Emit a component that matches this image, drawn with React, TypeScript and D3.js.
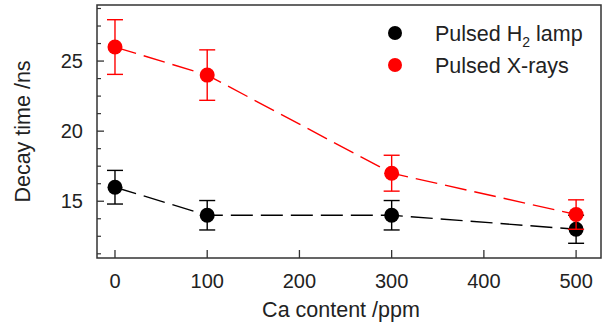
import * as d3 from "d3";

const caContent = [0, 100, 300, 500];
const lampDecay = [16, 14, 14, 13];
const lampErr = [1.2, 1.05, 1.05, 1.0];
const xrayDecay = [26, 24, 17, 14.05];
const xrayErr = [1.95, 1.8, 1.28, 1.05];
const xTicks = [0, 100, 200, 300, 400, 500];
const yTicks = [15, 20, 25];
const yMinorTicks = [11.25, 12.5, 13.75, 16.25, 17.5, 18.75, 21.25, 22.5, 23.75, 26.25, 27.5, 28.75];

const W = 610;
const H = 325;
const margin = { top: 5, right: 9, bottom: 67, left: 97 };
const FONT = "Liberation Sans, Arial, sans-serif";

export default function App() {
  const x = d3.scaleLinear().domain([-19.5, 527]).range([margin.left, W - margin.right]);
  const y = d3.scaleLinear().domain([10.95, 29]).range([H - margin.bottom, margin.top]);

  const line = d3
    .line<number>()
    .x((_, i) => x(caContent[i]))
    .y((d) => y(d));

  const series = [
    { name: "lamp", vals: lampDecay, err: lampErr, color: "#000000" },
    { name: "xray", vals: xrayDecay, err: xrayErr, color: "#ff0000" },
  ];

  const x0 = margin.left;
  const x1 = W - margin.right;
  const y0 = H - margin.bottom;
  const y1 = margin.top;

  return (
    <svg
      width={W}
      height={H}
      style={{ position: "absolute", left: 0, top: 0, background: "#fff" }}
      fontFamily={FONT}
    >
      {/* frame */}
      <rect x={x0} y={y1} width={x1 - x0} height={y0 - y1} fill="none" stroke="#333" strokeWidth={1.5} />

      {/* y ticks, pointing inward */}
      {yTicks.map((t) => (
        <g key={"y" + t}>
          <line x1={x0} x2={x0 + 7} y1={y(t)} y2={y(t)} stroke="#333" strokeWidth={1.3} />
          <text x={x0 - 14} y={y(t)} dy="0.36em" textAnchor="end" fontSize={20} fill="#222">
            {t}
          </text>
        </g>
      ))}
      {yMinorTicks.map((t) => (
        <line key={"ym" + t} x1={x0} x2={x0 + 4} y1={y(t)} y2={y(t)} stroke="#333" strokeWidth={1.2} />
      ))}

      {/* x ticks */}
      {xTicks.map((t) => (
        <g key={"x" + t}>
          <line x1={x(t)} x2={x(t)} y1={y0} y2={y0 - 8} stroke="#333" strokeWidth={1.3} />
          <text x={x(t)} y={y0 + 30} textAnchor="middle" fontSize={20} fill="#222">
            {t}
          </text>
        </g>
      ))}

      {/* axis titles */}
      <text x={(x0 + x1) / 2 - 8} y={H - 8} textAnchor="middle" fontSize={21.5} fill="#222">
        Ca content /ppm
      </text>
      <text
        transform={`translate(30,${(y0 + y1) / 2}) rotate(-90)`}
        textAnchor="middle"
        fontSize={21.5}
        fill="#222"
      >
        Decay time /ns
      </text>

      {/* series */}
      {series.map((s) => (
        <g key={s.name}>
          <path d={line(s.vals) ?? ""} fill="none" stroke={s.color} strokeWidth={1.4} strokeDasharray="22,8" />
          {s.vals.map((v, i) => {
            const cx = x(caContent[i]);
            const top = y(v + s.err[i]);
            const bot = y(v - s.err[i]);
            return (
              <g key={i} stroke={s.color} strokeWidth={1.4}>
                <line x1={cx} x2={cx} y1={top} y2={bot} />
                <line x1={cx - 8} x2={cx + 8} y1={top} y2={top} />
                <line x1={cx - 8} x2={cx + 8} y1={bot} y2={bot} />
              </g>
            );
          })}
          {s.vals.map((v, i) => (
            <circle key={"c" + i} cx={x(caContent[i])} cy={y(v)} r={7.5} fill={s.color} />
          ))}
        </g>
      ))}

      {/* legend */}
      <circle cx={395} cy={33} r={7} fill="#000" />
      <text x={435} y={33} dy="0.36em" fontSize={21.5} fill="#222">
        Pulsed H<tspan fontSize={14} dy={6}>2</tspan>
        <tspan dy={-6}> lamp</tspan>
      </text>
      <circle cx={395} cy={65} r={7} fill="#ff0000" />
      <text x={435} y={65} dy="0.36em" fontSize={21.5} fill="#222">
        Pulsed X-rays
      </text>
    </svg>
  );
}
